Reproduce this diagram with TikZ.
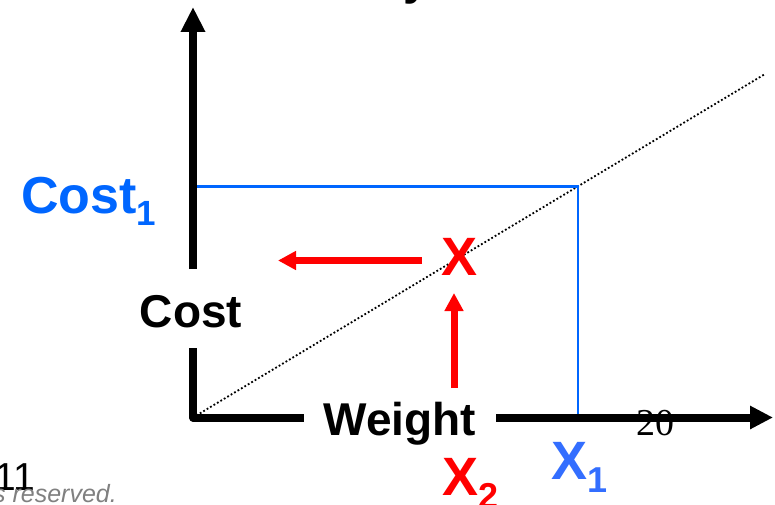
\documentclass[tikz,border=0pt]{standalone}
\usepackage{fontspec}
\setmainfont{Liberation Sans}
\newfontfamily\serifnum{Liberation Serif}
\usetikzlibrary{arrows.meta}
\definecolor{myred}{RGB}{255,0,0}
\definecolor{myblue}{RGB}{0,102,255}
\definecolor{xblue}{RGB}{51,110,255}
\definecolor{mygray}{RGB}{128,128,128}
\tikzset{
  axisline/.style={line width=8pt, black},
  blueline/.style={line width=2.5pt, myblue},
  redarrow/.style={line width=7pt, myred, -{Triangle[length=18pt,width=18pt]}},
  dotline/.style={line width=1.8pt, black, dash pattern=on 1.8pt off 2.2pt},
  biglbl/.style={font=\fontsize{46}{50}\selectfont\bfseries, inner sep=0pt, outer sep=0pt},
}
\begin{document}
\begin{tikzpicture}[x=1pt,y=-1pt]
\useasboundingbox (0,0) rectangle (775,505);
\clip (0,0) rectangle (775,505);
% key points
\coordinate (O) at (193,417.5);
\coordinate (ytop) at (193,7);
\coordinate (xend) at (773,417.5);
\coordinate (P) at (578,186.5);
\coordinate (dend) at (765,74);
% axis labels
\node[biglbl, anchor=base, text height=37pt, text depth=0pt, inner ysep=21pt] (costlbl) at (191,327) {Cost};
\node[biglbl, anchor=base, inner xsep=20pt] (weightlbl) at (400,435) {Weight};
% dotted diagonal
\draw[dotline] (O) -- (dend);
% blue guide lines
\draw[blueline] (ytop |- P) -- (P) -- (P |- O);
% axes
\draw[axisline, line join=round] (O |- costlbl.south) -- (O) -- (O -| weightlbl.west);
\draw[axisline, -{Triangle[length=25pt,width=23pt]}] (O |- costlbl.north) -- (ytop);
\draw[axisline, -{Triangle[length=23pt,width=22pt]}] (O -| weightlbl.east) -- (xend);
% number on axis
\node[font=\serifnum\fontsize{38}{40}\selectfont, anchor=base, inner sep=0pt] (twenty) at (655,435) {20};
% blue labels
\node[font=\fontsize{52}{56}\selectfont\bfseries, text=myblue, anchor=base west, inner sep=0pt] (cost1) at (21,213) {Cost\raisebox{-12pt}{\fontsize{35}{38}\selectfont 1}};
\node[font=\fontsize{54}{58}\selectfont\bfseries, text=xblue, anchor=base west, inner sep=0pt] (x1) at (551,479) {X\raisebox{-13pt}{\fontsize{36}{38}\selectfont 1}};
% red labels and arrows
\node[font=\fontsize{54}{58}\selectfont\bfseries, text=myred, anchor=base, inner sep=0pt] (redX) at (459.5,275) {X};
\node[font=\fontsize{54}{58}\selectfont\bfseries, text=myred, anchor=base west, inner sep=0pt] (x2) at (442,495) {X\raisebox{-13pt}{\fontsize{36}{38}\selectfont 2}};
\coordinate (la1) at (422,260.5);
\coordinate (la2) at (278,260.5);
\coordinate (ua1) at (454,388);
\coordinate (ua2) at (454,293);
\draw[redarrow] (la1) -- (la2);
\draw[redarrow] (ua1) -- (ua2);
% clipped fragments of surrounding slide text
\node[font=\fontsize{39}{42}\selectfont, anchor=base east, inner sep=0pt] (yr) at (35,490) {11};
\node[font=\fontsize{25}{28}\selectfont\itshape, text=mygray, anchor=base east, inner sep=0pt] (rights) at (117,502) {s reserved.};
\node[font=\fontsize{47}{50}\selectfont\bfseries, anchor=base west, inner sep=0pt] (topy) at (403,-5) {y};
\end{tikzpicture}
\end{document}
